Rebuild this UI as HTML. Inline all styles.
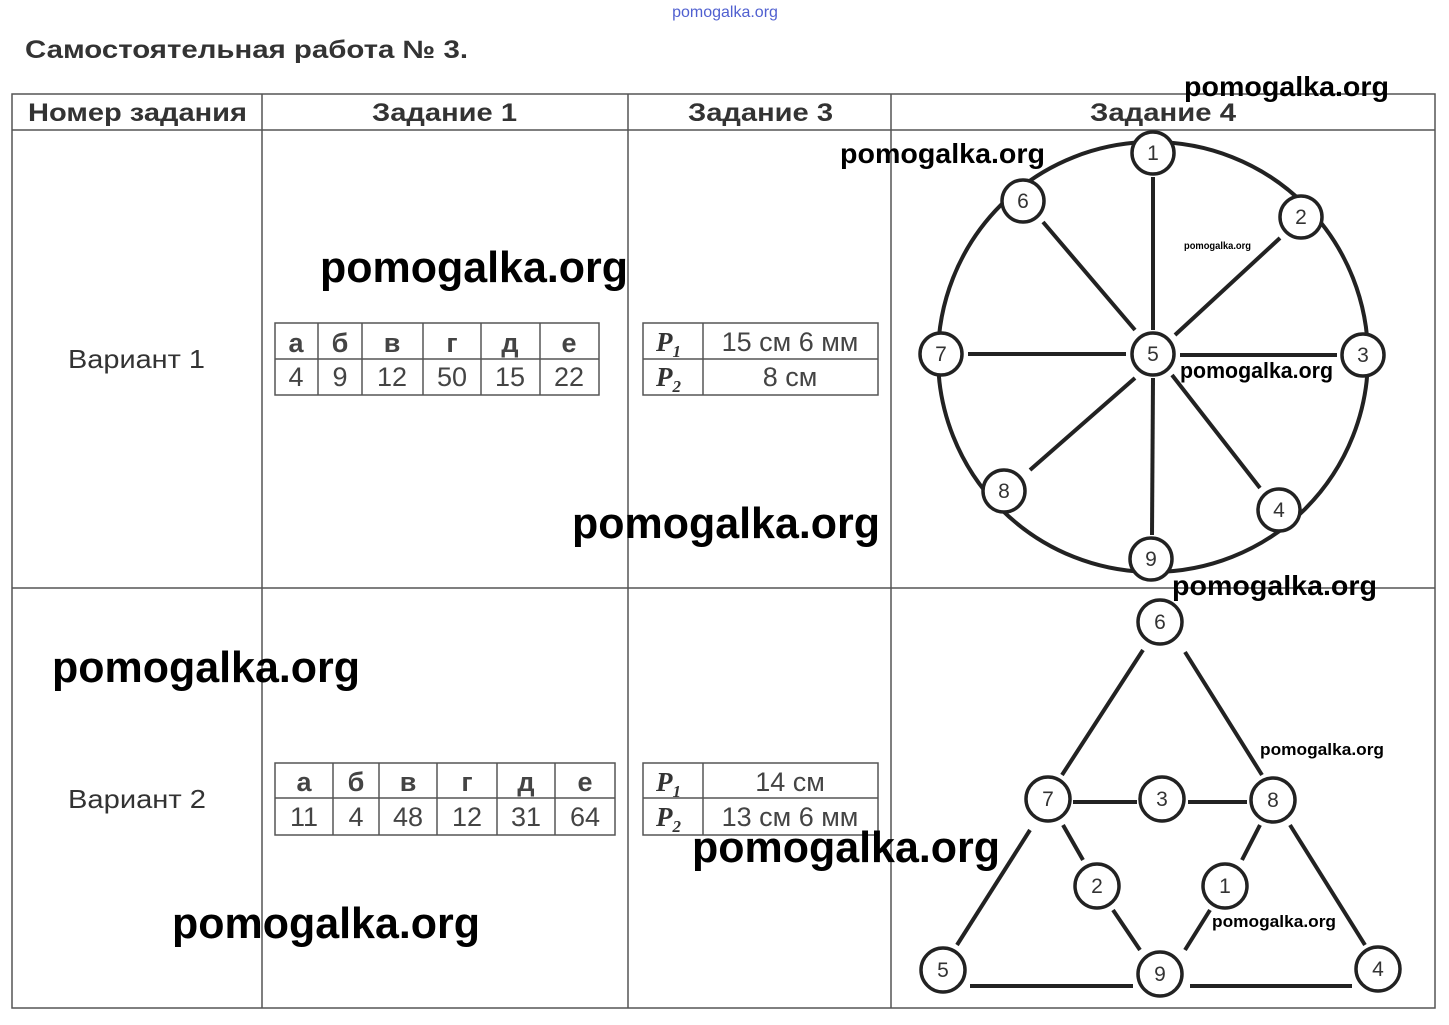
<!DOCTYPE html>
<html><head><meta charset="utf-8"><style>
html,body{margin:0;padding:0;background:#fff}
svg{display:block}
.t{font-family:"Liberation Sans",sans-serif;fill:#333}
.w{font-family:"Liberation Sans",sans-serif;font-weight:bold;fill:#000}
.n{font-family:"Liberation Sans",sans-serif;font-size:21px;fill:#333;text-anchor:middle}
.c{font-family:"Liberation Sans",sans-serif;font-size:27px;fill:#444;text-anchor:middle}
.p{font-family:"Liberation Serif",serif;font-style:italic;font-weight:bold;font-size:27px;fill:#333}
</style></head><body>
<svg width="1449" height="1025" viewBox="0 0 1449 1025" xmlns="http://www.w3.org/2000/svg">
<text x="725" y="17" text-anchor="middle" font-family="Liberation Sans" font-size="16" fill="#5060d0">pomogalka.org</text>
<text class="t" x="25" y="58" font-size="25" font-weight="bold" fill="#444" textLength="443" lengthAdjust="spacingAndGlyphs">Самостоятельная работа № 3.</text>
<g stroke="#555" stroke-width="1.5" fill="none">
<rect x="12" y="94" width="1423" height="914"/>
<line x1="12" y1="130" x2="1435" y2="130"/>
<line x1="12" y1="588" x2="1435" y2="588"/>
<line x1="262" y1="94" x2="262" y2="1008"/>
<line x1="628" y1="94" x2="628" y2="1008"/>
<line x1="891" y1="94" x2="891" y2="1008"/>
</g>
<g class="t" font-size="25" font-weight="bold" fill="#444">
<text x="28" y="121" textLength="219" lengthAdjust="spacingAndGlyphs">Номер задания</text>
<text x="372" y="121" textLength="145" lengthAdjust="spacingAndGlyphs">Задание 1</text>
<text x="688" y="121" textLength="145" lengthAdjust="spacingAndGlyphs">Задание 3</text>
<text x="1090" y="121" textLength="146" lengthAdjust="spacingAndGlyphs">Задание 4</text>
</g>
<text class="t" x="68" y="368" font-size="26" fill="#444" textLength="137" lengthAdjust="spacingAndGlyphs">Вариант 1</text>
<text class="t" x="68" y="808" font-size="26" fill="#444" textLength="138" lengthAdjust="spacingAndGlyphs">Вариант 2</text>
<g stroke="#555" stroke-width="1.5" fill="none">
<rect x="275" y="323" width="324" height="72"/><line x1="275" y1="359" x2="599" y2="359"/>
<line x1="318" y1="323" x2="318" y2="395"/><line x1="362" y1="323" x2="362" y2="395"/><line x1="423" y1="323" x2="423" y2="395"/><line x1="481" y1="323" x2="481" y2="395"/><line x1="540" y1="323" x2="540" y2="395"/>
<rect x="275" y="763" width="340" height="72"/><line x1="275" y1="798" x2="615" y2="798"/>
<line x1="333" y1="763" x2="333" y2="835"/><line x1="379" y1="763" x2="379" y2="835"/><line x1="437" y1="763" x2="437" y2="835"/><line x1="497" y1="763" x2="497" y2="835"/><line x1="555" y1="763" x2="555" y2="835"/>
<rect x="643" y="323" width="235" height="72"/><line x1="643" y1="359" x2="878" y2="359"/><line x1="703" y1="323" x2="703" y2="395"/>
<rect x="643" y="763" width="235" height="72"/><line x1="643" y1="798" x2="878" y2="798"/><line x1="703" y1="763" x2="703" y2="835"/>
</g>
<g class="c" font-weight="bold" fill="#444">
<text x="296" y="352">а</text><text x="340" y="352">б</text><text x="392" y="352">в</text><text x="452" y="352">г</text><text x="510" y="352">д</text><text x="569" y="352">е</text>
<text x="304" y="791">а</text><text x="356" y="791">б</text><text x="408" y="791">в</text><text x="467" y="791">г</text><text x="526" y="791">д</text><text x="585" y="791">е</text>
</g>
<g class="c">
<text x="296" y="386">4</text><text x="340" y="386">9</text><text x="392" y="386">12</text><text x="452" y="386">50</text><text x="510" y="386">15</text><text x="569" y="386">22</text>
<text x="304" y="826">11</text><text x="356" y="826">4</text><text x="408" y="826">48</text><text x="467" y="826">12</text><text x="526" y="826">31</text><text x="585" y="826">64</text>
<text x="790" y="351">15 см 6 мм</text><text x="790" y="386">8 см</text>
<text x="790" y="791">14 см</text><text x="790" y="826">13 см 6 мм</text>
</g>
<g class="p">
<text x="656" y="351">P<tspan font-size="17" dy="6">1</tspan></text>
<text x="656" y="386">P<tspan font-size="17" dy="6">2</tspan></text>
<text x="656" y="791">P<tspan font-size="17" dy="6">1</tspan></text>
<text x="656" y="826">P<tspan font-size="17" dy="6">2</tspan></text>
</g>
<g stroke="#222" stroke-width="4" fill="none">
<circle cx="1153" cy="357" r="215"/>
<line x1="1153" y1="177" x2="1153" y2="330"/>
<line x1="1153" y1="378" x2="1152" y2="535"/>
<line x1="968" y1="354" x2="1126" y2="354"/>
<line x1="1180" y1="355" x2="1337" y2="355"/>
<line x1="1043" y1="222" x2="1135" y2="330"/>
<line x1="1280" y1="238" x2="1175" y2="335"/>
<line x1="1135" y1="378" x2="1030" y2="470"/>
<line x1="1172" y1="375" x2="1260" y2="488"/>
</g>
<g stroke="#222" stroke-width="3.5" fill="#fff">
<circle cx="1153" cy="153" r="21"/><circle cx="1301" cy="217" r="21"/><circle cx="1363" cy="355" r="21"/><circle cx="1279" cy="510" r="21"/>
<circle cx="1151" cy="559" r="21"/><circle cx="1004" cy="491" r="21"/><circle cx="941" cy="354" r="21"/><circle cx="1023" cy="201" r="21"/><circle cx="1153" cy="354" r="21"/>
</g>
<g class="n">
<text x="1153" y="160">1</text><text x="1301" y="224">2</text><text x="1363" y="362">3</text><text x="1279" y="517">4</text>
<text x="1151" y="566">9</text><text x="1004" y="498">8</text><text x="941" y="361">7</text><text x="1023" y="208">6</text><text x="1153" y="361">5</text>
</g>
<g stroke="#222" stroke-width="4" fill="none">
<line x1="1143" y1="650" x2="1062" y2="775"/>
<line x1="1185" y1="652" x2="1262" y2="775"/>
<line x1="1073" y1="802" x2="1137" y2="802"/>
<line x1="1188" y1="802" x2="1247" y2="802"/>
<line x1="1063" y1="825" x2="1083" y2="860"/>
<line x1="1113" y1="910" x2="1140" y2="950"/>
<line x1="1260" y1="825" x2="1242" y2="860"/>
<line x1="1210" y1="910" x2="1185" y2="950"/>
<line x1="1030" y1="830" x2="957" y2="945"/>
<line x1="1290" y1="825" x2="1365" y2="945"/>
<line x1="970" y1="986" x2="1133" y2="986"/>
<line x1="1190" y1="986" x2="1352" y2="986"/>
</g>
<g stroke="#222" stroke-width="3.5" fill="#fff">
<circle cx="1160" cy="622" r="22"/><circle cx="1048" cy="799" r="22"/><circle cx="1162" cy="799" r="22"/><circle cx="1273" cy="800" r="22"/>
<circle cx="1097" cy="886" r="22"/><circle cx="1225" cy="886" r="22"/><circle cx="943" cy="970" r="22"/><circle cx="1160" cy="974" r="22"/><circle cx="1378" cy="969" r="22"/>
</g>
<g class="n">
<text x="1160" y="629">6</text><text x="1048" y="806">7</text><text x="1162" y="806">3</text><text x="1273" y="807">8</text>
<text x="1097" y="893">2</text><text x="1225" y="893">1</text><text x="943" y="977">5</text><text x="1160" y="981">9</text><text x="1378" y="976">4</text>
</g>
<g class="w">
<text x="1184" y="96" font-size="28" textLength="205" lengthAdjust="spacingAndGlyphs">pomogalka.org</text>
<text x="840" y="163" font-size="28" textLength="205" lengthAdjust="spacingAndGlyphs">pomogalka.org</text>
<text x="1184" y="249" font-size="10" textLength="67" lengthAdjust="spacingAndGlyphs">pomogalka.org</text>
<text x="1180" y="378" font-size="22" textLength="153" lengthAdjust="spacingAndGlyphs">pomogalka.org</text>
<text x="320" y="282" font-size="44" textLength="308" lengthAdjust="spacingAndGlyphs">pomogalka.org</text>
<text x="572" y="538" font-size="44" textLength="308" lengthAdjust="spacingAndGlyphs">pomogalka.org</text>
<text x="1172" y="595" font-size="28" textLength="205" lengthAdjust="spacingAndGlyphs">pomogalka.org</text>
<text x="52" y="682" font-size="44" textLength="308" lengthAdjust="spacingAndGlyphs">pomogalka.org</text>
<text x="1260" y="755" font-size="17" textLength="124" lengthAdjust="spacingAndGlyphs">pomogalka.org</text>
<text x="692" y="862" font-size="44" textLength="308" lengthAdjust="spacingAndGlyphs">pomogalka.org</text>
<text x="1212" y="927" font-size="17" textLength="124" lengthAdjust="spacingAndGlyphs">pomogalka.org</text>
<text x="172" y="938" font-size="44" textLength="308" lengthAdjust="spacingAndGlyphs">pomogalka.org</text>
</g>
</svg>
</body></html>
